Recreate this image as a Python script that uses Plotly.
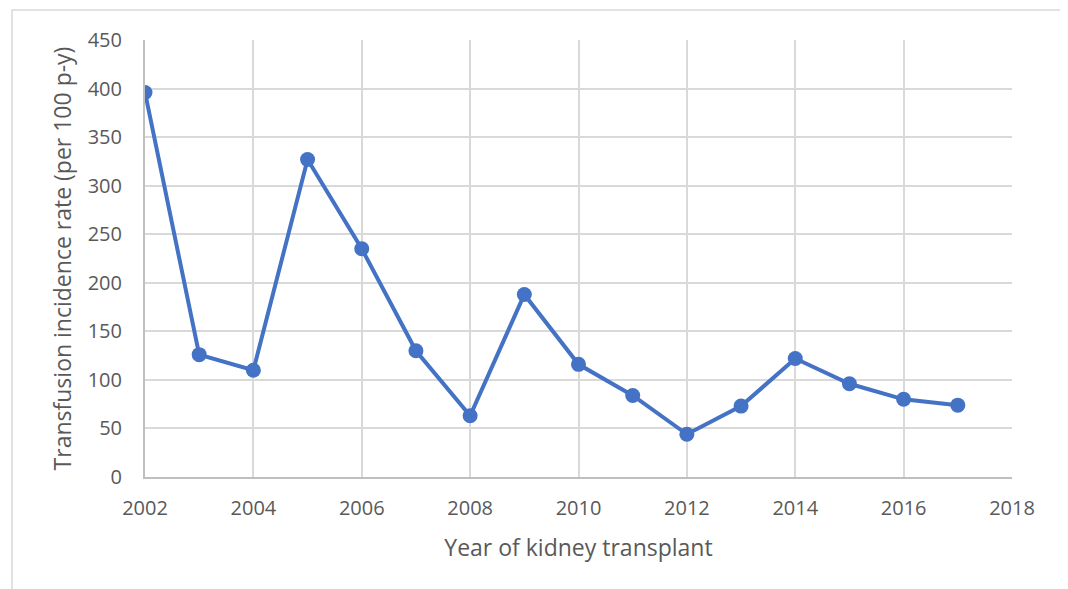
import plotly.graph_objects as go

years = [2002, 2003, 2004, 2005, 2006, 2007, 2008, 2009, 2010, 2011, 2012, 2013, 2014, 2015, 2016, 2017]
rates = [396, 126, 110, 327, 235, 130, 63, 188, 116, 84, 44, 73, 122, 96, 80, 74]
x_ticks = [2002, 2004, 2006, 2008, 2010, 2012, 2014, 2016, 2018]
y_ticks = [0, 50, 100, 150, 200, 250, 300, 350, 400, 450]

# page body has an 8px margin, so the figure is offset by (8, 8)
OFF = 8
W, H = 1068 - OFF, 589 - OFF
L, R, T, B = 145 - OFF, 56, 40 - OFF, 112
pw, ph = W - L - R, H - T - B

def px_x(p):
    return (p - OFF - L) / pw

def px_y(p):
    return (H - B - (p - OFF)) / ph

fig = go.Figure()
fig.add_trace(go.Scatter(
    x=years, y=rates, mode="lines+markers",
    line=dict(color="#4472C4", width=4),
    marker=dict(color="#4472C4", size=15),
    showlegend=False,
))

font_family = "Open Sans, Liberation Sans, sans-serif"
fig.update_layout(
    width=W, height=H,
    margin=dict(l=L, r=R, t=T, b=B),
    paper_bgcolor="white", plot_bgcolor="white",
    font=dict(family=font_family, color="#595959"),
    xaxis=dict(
        range=[2002, 2018], tickvals=x_ticks, ticktext=[str(v) for v in x_ticks],
        showgrid=True, gridcolor="#d9d9d9", gridwidth=1.5,
        showline=True, linecolor="#bfbfbf", linewidth=2,
        zeroline=False, tickfont=dict(size=20, color="#595959"),
        ticks="", ticklabelstandoff=12,
        title=dict(text="Year of kidney transplant", font=dict(size=23, color="#595959"), standoff=20),
    ),
    yaxis=dict(
        range=[0, 450], tickvals=y_ticks,
        showgrid=True, gridcolor="#d9d9d9", gridwidth=1.5,
        showline=True, linecolor="#bfbfbf", linewidth=2,
        zeroline=False, tickfont=dict(size=20, color="#595959"),
        ticks="", ticklabelstandoff=17,
        title=dict(text="Transfusion incidence rate (per 100 p-y)", font=dict(size=23, color="#595959"), standoff=10),
    ),
    shapes=[dict(
        type="rect", xref="paper", yref="paper",
        x0=px_x(12), x1=px_x(1065), y0=px_y(620), y1=px_y(10),
        line=dict(color="#d9d9d9", width=1.5), fillcolor="rgba(0,0,0,0)", layer="below",
    )],
)

fig.write_html("out.html")
